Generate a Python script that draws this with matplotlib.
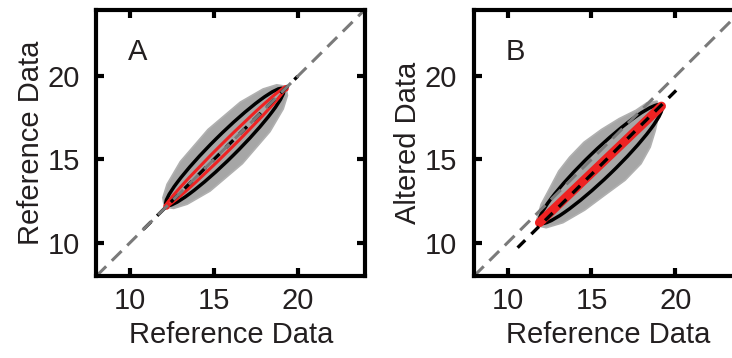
import matplotlib
matplotlib.use("Agg")
import matplotlib.pyplot as plt
from matplotlib.patches import Polygon, Ellipse

plt.rcParams['font.family'] = ['Liberation Sans', 'DejaVu Sans']

# ---- data ----
axis_range = [8, 24]
ticks = [10, 15, 20]
panel_letters = ["A", "B"]
y_labels = ["Reference Data", "Altered Data"]
x_label = "Reference Data"

# gray cloud outlines (upper-left edge going up, then lower-right edge going down)
cloud_A_x = [12.03, 11.96, 12.21, 13.00, 14.65, 16.57, 17.93, 18.74, 19.17,
             19.31, 19.38, 19.13, 18.34, 16.70, 14.77, 13.41, 12.60, 12.17]
cloud_A_y = [12.27, 12.70, 13.51, 14.87, 16.80, 18.44, 19.23, 19.48, 19.41,
             19.27, 18.84, 18.03, 16.67, 14.75, 13.10, 12.31, 12.06, 12.13]
cloud_B_x = [11.75, 12.0, 12.45, 13.05, 13.7, 14.55, 15.6, 16.65, 17.65, 18.3, 18.9,
             19.15, 18.97, 18.8, 18.5, 17.95, 17.0, 15.8, 14.6, 13.3, 12.3, 11.85]
cloud_B_y = [11.4, 12.3, 13.15, 14.3, 15.14, 16.03, 16.8, 17.45, 17.95, 18.4, 18.5,
             18.0, 17.52, 16.73, 15.74, 14.74, 13.75, 12.86, 11.96, 11.2, 10.9, 11.0]

# black contour ellipses: centre x, centre y, length, width, angle
ell_A = [15.65, 15.75, 9.85, 1.42, 45.0]
ell_B = [15.55, 14.72, 10.1, 1.62, 44.2]

# red fit: panel A thin ellipse (+ dense end points), panel B thick segment
red_A = [15.7, 15.75, 10.15, 0.56, 45.0]
red_A_tips_x = [12.15, 19.25]
red_A_tips_y = [12.2, 19.3]
red_B_x = [11.9, 19.17]
red_B_y = [11.2, 18.2]

# black dashed fitted lines
fit_A_x = [10.8, 20.0]
fit_A_y = [10.8, 20.0]
fit_B_x = [10.6, 20.06]
fit_B_y = [9.7, 19.16]

fig = plt.figure(figsize=(7.32, 3.58), dpi=100)
axA = fig.add_axes([0.1317, 0.229, 0.3669, 0.7444])
axB = fig.add_axes([0.6475, 0.229, 0.3669, 0.7444])

panels = [
    (axA, cloud_A_x, cloud_A_y, ell_A, fit_A_x, fit_A_y),
    (axB, cloud_B_x, cloud_B_y, ell_B, fit_B_x, fit_B_y),
]

txt = '#231f20'
red = '#ee2222'
for i, (ax, cx, cy, ell, fx, fy) in enumerate(panels):
    ax.add_patch(Polygon(list(zip(cx, cy)), closed=True, facecolor='#a6a6a6',
                         edgecolor='#b0b0b0', linewidth=1.2, joinstyle='round',
                         zorder=1))
    ax.add_patch(Ellipse((ell[0], ell[1]), ell[2], ell[3], angle=ell[4],
                         fill=False, edgecolor='black', linewidth=2.5, zorder=2))
    if i == 0:
        ax.add_patch(Ellipse((red_A[0], red_A[1]), red_A[2], red_A[3], angle=red_A[4],
                             fill=False, edgecolor=red, linewidth=2.2, zorder=3))
        ax.scatter(red_A_tips_x, red_A_tips_y, s=22, color=red, linewidths=0,
                   zorder=3)
    else:
        ax.plot(red_B_x, red_B_y, color=red, linewidth=6.5,
                solid_capstyle='round', zorder=3)
    ax.plot(fx, fy, color='black', linewidth=2.4, dashes=(3.2, 2.6), zorder=4)
    ax.plot(axis_range, axis_range, color='#7a7a7a', linewidth=2.2,
            dashes=(4.5, 2.6), zorder=5)

    ax.set_xlim(axis_range)
    ax.set_ylim(axis_range)
    ax.set_xticks(ticks)
    ax.set_yticks(ticks)
    ax.tick_params(direction='in', length=6, width=3, top=True, right=True,
                   labelsize=21, colors='black')
    ax.tick_params(axis='x', labelcolor=txt, pad=8)
    ax.tick_params(axis='y', labelcolor=txt, pad=12)
    for s in ax.spines.values():
        s.set_linewidth(3)
        s.set_zorder(10)
    ax.set_xlabel(x_label, fontsize=21, color=txt, labelpad=4)
    ax.set_ylabel(y_labels[i], fontsize=21, color=txt, labelpad=2)
    ax.text(0.155, 0.84, panel_letters[i], transform=ax.transAxes, fontsize=21,
            color=txt, ha='center', va='center')

fig.savefig("out.png", dpi=100)
